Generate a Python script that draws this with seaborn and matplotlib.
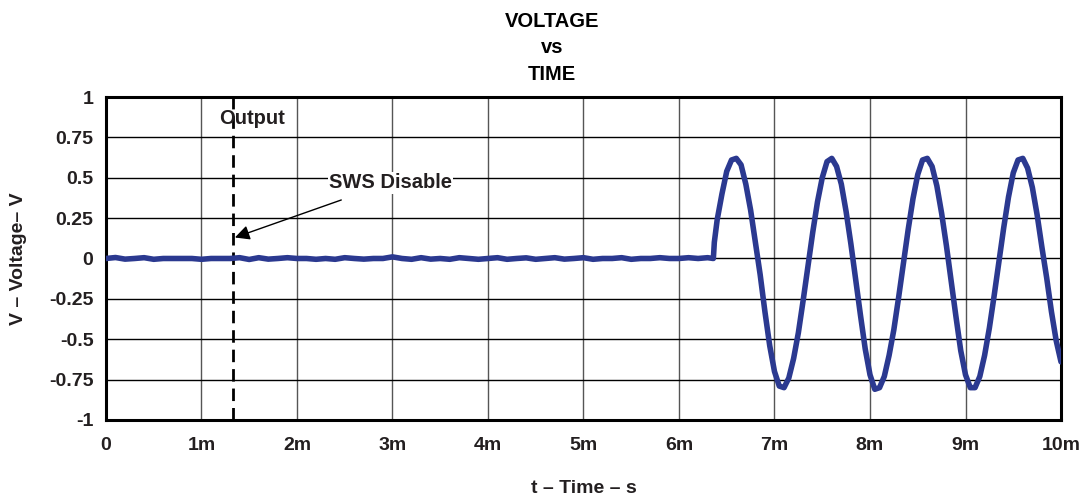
import numpy as np
import pandas as pd
import seaborn as sns
from matplotlib import pyplot as plt

# time in ms, voltage in V
t_flat = [0.0, 0.1, 0.2, 0.3, 0.4, 0.5, 0.6, 0.7, 0.8, 0.9,
          1.0, 1.1, 1.2, 1.3, 1.4, 1.5, 1.6, 1.7, 1.8, 1.9,
          2.0, 2.1, 2.2, 2.3, 2.4, 2.5, 2.6, 2.7, 2.8, 2.9,
          3.0, 3.1, 3.2, 3.3, 3.4, 3.5, 3.6, 3.7, 3.8, 3.9,
          4.0, 4.1, 4.2, 4.3, 4.4, 4.5, 4.6, 4.7, 4.8, 4.9,
          5.0, 5.1, 5.2, 5.3, 5.4, 5.5, 5.6, 5.7, 5.8, 5.9,
          6.0, 6.1, 6.2, 6.3, 6.36]
v_flat = [0.0, 0.006, -0.004, 0.0, 0.005, -0.005, 0.0, 0.0, 0.0, 0.0,
          -0.005, 0.0, 0.0, 0.0, 0.005, -0.006, 0.005, -0.004, 0.0, 0.005,
          0.0, 0.0, -0.005, 0.0, -0.005, 0.005, 0.0, -0.004, 0.0, 0.0,
          0.01, 0.0, -0.005, 0.005, -0.004, 0.0, -0.005, 0.005, 0.0, -0.005,
          0.0, 0.005, -0.005, 0.0, 0.004, -0.005, 0.0, 0.005, -0.004, 0.0,
          0.005, -0.005, 0.0, 0.0, 0.005, -0.005, 0.0, 0.0, 0.005, 0.0,
          0.0, 0.005, 0.0, 0.005, 0.0]

t_osc = [6.37, 6.40, 6.45, 6.50, 6.55, 6.60, 6.65, 6.70, 6.75, 6.80, 6.85, 6.90, 6.95,
         7.00, 7.05, 7.10, 7.15, 7.20, 7.25, 7.30, 7.35, 7.40, 7.45, 7.50, 7.55,
         7.60, 7.65, 7.70, 7.75, 7.80, 7.85, 7.90, 7.95,
         8.00, 8.05, 8.10, 8.15, 8.20, 8.25, 8.30, 8.35, 8.40, 8.45, 8.50, 8.55,
         8.60, 8.65, 8.70, 8.75, 8.80, 8.85, 8.90, 8.95,
         9.00, 9.05, 9.10, 9.15, 9.20, 9.25, 9.30, 9.35, 9.40, 9.45, 9.50, 9.55,
         9.60, 9.65, 9.70, 9.75, 9.80, 9.85, 9.90, 9.95, 10.00]
v_osc = [0.10, 0.24, 0.40, 0.54, 0.61, 0.62, 0.58, 0.46, 0.30, 0.10, -0.10, -0.33, -0.54,
         -0.70, -0.79, -0.80, -0.74, -0.62, -0.46, -0.26, -0.05, 0.16, 0.35, 0.50, 0.60,
         0.62, 0.57, 0.46, 0.29, 0.09, -0.13, -0.35, -0.56,
         -0.72, -0.81, -0.80, -0.73, -0.60, -0.44, -0.24, -0.03, 0.18, 0.37, 0.52, 0.61,
         0.62, 0.57, 0.45, 0.28, 0.08, -0.14, -0.36, -0.57,
         -0.72, -0.80, -0.80, -0.73, -0.60, -0.43, -0.23, -0.02, 0.19, 0.38, 0.53, 0.61,
         0.62, 0.56, 0.44, 0.27, 0.07, -0.12, -0.33, -0.51, -0.64]

x_ticks = [0, 1, 2, 3, 4, 5, 6, 7, 8, 9, 10]
x_labels = ['0', '1m', '2m', '3m', '4m', '5m', '6m', '7m', '8m', '9m', '10m']
y_ticks = [-1, -0.75, -0.5, -0.25, 0, 0.25, 0.5, 0.75, 1]
y_labels = ['-1', '-0.75', '-0.5', '-0.25', '0', '0.25', '0.5', '0.75', '1']

disable_t = 1.33
txt = '#231F20'

sns.set_theme(style="whitegrid")
plt.rcParams['font.family'] = ['Liberation Sans', 'DejaVu Sans']
plt.rcParams['font.weight'] = 'bold'

df = pd.DataFrame({'t': t_flat + t_osc, 'v': v_flat + v_osc})

fig = plt.figure(figsize=(10.9, 4.97), dpi=100)
ax = fig.add_axes([0.0972, 0.155, 0.8762, 0.6498])

sns.lineplot(x='t', y='v', data=df, ax=ax, color='#2B3990', linewidth=4,
             estimator=None, sort=False, zorder=5)

ax.axvline(disable_t, color='black', linestyle=(0, (4.5, 2.5)), linewidth=2, zorder=4)

ax.set_xlim(0, 10)
ax.set_ylim(-1, 1)
ax.set_xticks(x_ticks)
ax.set_xticklabels(x_labels, fontsize=14, fontweight='bold', color=txt)
ax.set_yticks(y_ticks)
ax.set_yticklabels(y_labels, fontsize=14, fontweight='bold', color=txt)
ax.tick_params(axis='x', length=0, pad=12)
ax.tick_params(axis='y', length=0, pad=9)

ax.grid(False)
ax.xaxis.grid(True, color='#555555', linewidth=1)
ax.yaxis.grid(True, color='black', linewidth=1)
for s in ax.spines.values():
    s.set_color('black')
    s.set_linewidth(2.2)

ax.set_xlabel('t – Time – s', fontsize=14, fontweight='bold', color=txt, labelpad=19)
ax.set_ylabel('V – Voltage– V', fontsize=14, fontweight='bold', color=txt, labelpad=16)
fig.text(0.5064, 0.976, 'VOLTAGE\nvs\nTIME', ha='center', va='top', fontsize=14.5,
         fontweight='bold', color='black', linespacing=1.5)

ax.text(1.53, 0.87, 'Output', ha='center', va='center', fontsize=14.5,
        fontweight='bold', color=txt, zorder=6)
ax.annotate('SWS Disable', xy=(disable_t + 0.02, 0.13), xytext=(2.98, 0.47),
            ha='center', va='center', fontsize=14.5, fontweight='bold', color=txt,
            bbox=dict(facecolor='white', edgecolor='none', pad=1),
            arrowprops=dict(arrowstyle='-|>', color='black', lw=1,
                            mutation_scale=22, shrinkA=14, shrinkB=0),
            zorder=6)

plt.savefig('out.png', dpi=100)
